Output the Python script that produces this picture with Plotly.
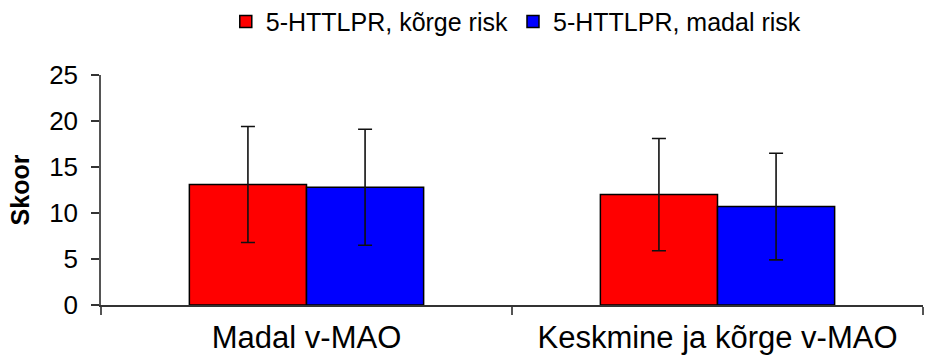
import plotly.graph_objects as go

# Scores by MAO group and 5-HTTLPR risk
categories = ["Madal v-MAO", "Keskmine ja kõrge v-MAO"]
series_names = ["5-HTTLPR, kõrge risk", "5-HTTLPR, madal risk"]
high_risk_mean = [13.1, 12.0]
high_risk_sd = [6.3, 6.1]
low_risk_mean = [12.8, 10.7]
low_risk_sd = [6.3, 5.8]
y_ticks = [0, 5, 10, 15, 20, 25]

colors = ["#ff0000", "#0000ff"]
font_family = "Liberation Sans, Arial, sans-serif"

fig = go.Figure()
for name, means, sds, color in zip(
    series_names,
    [high_risk_mean, low_risk_mean],
    [high_risk_sd, low_risk_sd],
    colors,
):
    fig.add_trace(
        go.Bar(
            name=name,
            x=categories,
            y=means,
            marker=dict(color=color, line=dict(color="#000000", width=1.5)),
            error_y=dict(
                type="data",
                array=sds,
                visible=True,
                color="#111111",
                thickness=1.6,
                width=7,
            ),
        )
    )

fig.update_layout(
    width=926,
    height=362,
    margin=dict(l=101, r=3, t=75, b=57),
    paper_bgcolor="white",
    plot_bgcolor="white",
    barmode="group",
    bargap=0.43,
    bargroupgap=0,
    font=dict(family=font_family, color="#000000"),
    showlegend=True,
    legend=dict(
        orientation="h",
        x=0.557,
        xanchor="center",
        xref="container",
        y=0.94,
        yanchor="middle",
        yref="container",
        font=dict(size=25, family=font_family),
        itemwidth=30,
        traceorder="normal",
    ),
    xaxis=dict(
        type="category",
        range=[-0.5, 1.5],
        showline=True,
        linecolor="#333333",
        linewidth=1.5,
        ticks="outside",
        tickson="boundaries",
        ticklen=8,
        tickcolor="#555555",
        tickwidth=1.5,
        ticklabelstandoff=4,
        tickfont=dict(size=31, family=font_family),
        showgrid=False,
        zeroline=False,
    ),
    yaxis=dict(
        range=[0, 25],
        tickvals=y_ticks,
        showline=True,
        linecolor="#555555",
        linewidth=1.5,
        ticks="outside",
        ticklen=8,
        tickcolor="#333333",
        tickwidth=1.5,
        ticklabelstandoff=8,
        tickfont=dict(size=26, family=font_family),
        showgrid=False,
        zeroline=False,
        title=dict(
            text="<b>Skoor</b>",
            font=dict(size=25, family=font_family),
            standoff=12,
        ),
    ),
)

fig.write_html("out.html")
